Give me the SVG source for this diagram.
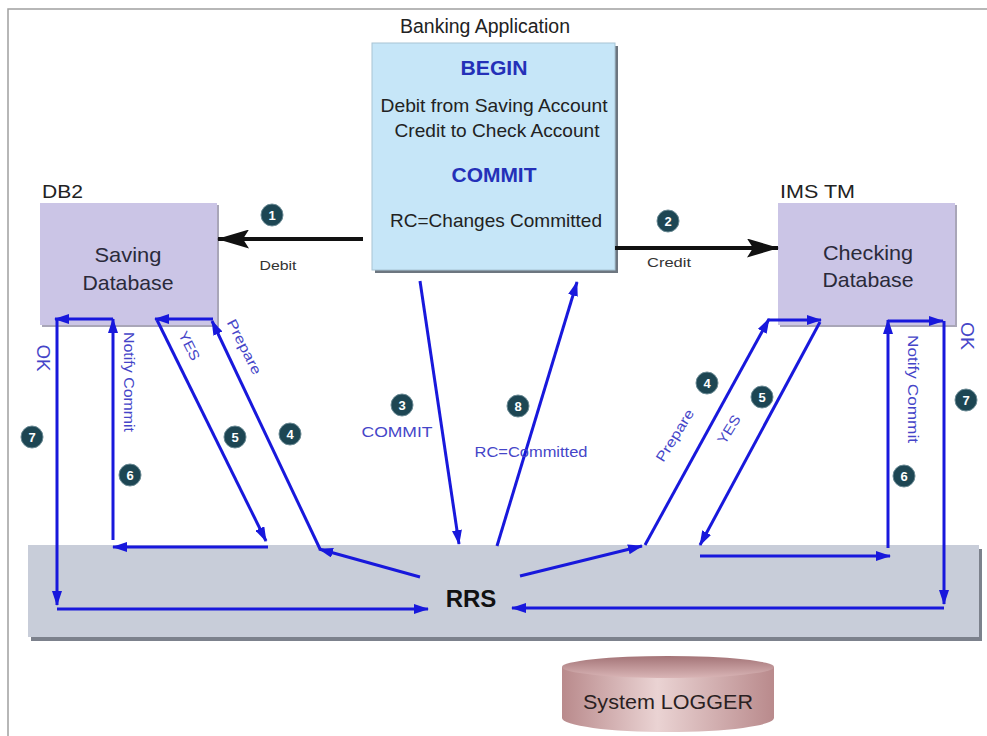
<svg xmlns="http://www.w3.org/2000/svg" width="987" height="736" viewBox="0 0 987 736">
<style>
  text { font-family: "Liberation Sans", Arial, sans-serif; fill: #222; }
  .t19 { font-size: 19px; }
  .node { font-size: 21px; fill: #2a2a3a; }
  .kw { font-size: 21px; font-weight: bold; fill: #2430b8; }
  .small { font-size: 13px; fill: #333; }
  .blab { font-size: 14px; fill: #4545c8; }
  .num { font-size: 13px; font-weight: bold; fill: #fff; }
  .bl { stroke: #1818dc; stroke-width: 3; fill: none; }
  .bk { stroke: #111; stroke-width: 4; fill: none; }
  .circ { fill: #1d4653; stroke: #6a8a94; stroke-width: 1; }
</style>
<defs>
  <marker id="ab" markerWidth="15" markerHeight="10" refX="14" refY="5" orient="auto" markerUnits="userSpaceOnUse">
    <path d="M0,0 L15,5 L0,10 Z" fill="#1818dc"/>
  </marker>
  <marker id="ak" markerWidth="32" markerHeight="19" refX="31" refY="9.5" orient="auto" markerUnits="userSpaceOnUse">
    <path d="M0,0 L32,9.5 L0,19 L6,9.5 Z" fill="#111"/>
  </marker>
  <linearGradient id="cyl" x1="0" y1="0" x2="1" y2="0">
    <stop offset="0" stop-color="#b98a8c"/>
    <stop offset="0.45" stop-color="#ead3d3"/>
    <stop offset="1" stop-color="#b98a8c"/>
  </linearGradient>
  <linearGradient id="cyltop" x1="0" y1="0" x2="0" y2="1">
    <stop offset="0" stop-color="#a47477"/>
    <stop offset="1" stop-color="#d9b5b6"/>
  </linearGradient>
</defs>

<rect x="8" y="9" width="990" height="740" fill="#fff" stroke="#a0a0a0" stroke-width="1.5"/>

<g id="rrs">
  <rect x="31" y="549" width="951" height="92" fill="#7c818c"/>
  <rect x="28" y="545" width="951" height="92" fill="#c8cdd9"/>
  <text x="471" y="607" text-anchor="middle" style="font-size:24px;font-weight:bold;fill:#111">RRS</text>
</g>

<g id="banking-app">
  <text x="485" y="33" text-anchor="middle" style="font-size:20px" textLength="170" lengthAdjust="spacingAndGlyphs">Banking Application</text>
  <rect x="375" y="46" width="243" height="227" fill="#6d7680"/>
  <rect x="372" y="43" width="243" height="227" fill="#c6e6f8" stroke="#a8c4d4" stroke-width="1"/>
  <text x="494" y="75" text-anchor="middle" class="kw" textLength="67" lengthAdjust="spacingAndGlyphs">BEGIN</text>
  <text x="494" y="112" text-anchor="middle" class="t19" textLength="227" lengthAdjust="spacingAndGlyphs">Debit from Saving Account</text>
  <text x="497" y="137" text-anchor="middle" class="t19" textLength="205" lengthAdjust="spacingAndGlyphs">Credit to Check Account</text>
  <text x="494" y="182" text-anchor="middle" class="kw" textLength="85" lengthAdjust="spacingAndGlyphs">COMMIT</text>
  <text x="496" y="227" text-anchor="middle" class="t19" textLength="212" lengthAdjust="spacingAndGlyphs">RC=Changes Committed</text>
</g>

<g id="saving-db">
  <text x="42" y="198" style="font-size:19px" textLength="41" lengthAdjust="spacingAndGlyphs">DB2</text>
  <rect x="42" y="205" width="177" height="122" fill="#a9a6b8"/>
  <rect x="40" y="203" width="177" height="122" fill="#cbc5e6"/>
  <text x="128" y="262" text-anchor="middle" class="node" textLength="67" lengthAdjust="spacingAndGlyphs">Saving</text>
  <text x="128" y="290" text-anchor="middle" class="node" textLength="91" lengthAdjust="spacingAndGlyphs">Database</text>
</g>

<g id="checking-db">
  <text x="780" y="198" style="font-size:19px" textLength="75" lengthAdjust="spacingAndGlyphs">IMS TM</text>
  <rect x="780" y="205" width="177" height="122" fill="#a9a6b8"/>
  <rect x="778" y="203" width="177" height="122" fill="#cbc5e6"/>
  <text x="868" y="260" text-anchor="middle" class="node" textLength="90" lengthAdjust="spacingAndGlyphs">Checking</text>
  <text x="868" y="287" text-anchor="middle" class="node" textLength="91" lengthAdjust="spacingAndGlyphs">Database</text>
</g>

<g id="system-logger">
  <path d="M562,667 L562,718 A106,14 0 0 0 774,718 L774,667 Z" fill="url(#cyl)"/>
  <ellipse cx="668" cy="667" rx="106" ry="11" fill="url(#cyltop)"/>
  <text x="668" y="709" text-anchor="middle" style="font-size:20px;fill:#2a1f22" textLength="170" lengthAdjust="spacingAndGlyphs">System LOGGER</text>
</g>

<g id="connectors">
  <path class="bk" d="M363,239 L218,239" marker-end="url(#ak)"/>
  <path class="bk" d="M615,248 L778,248" marker-end="url(#ak)"/>

  <path class="bl" d="M57,320 L57,605" marker-end="url(#ab)"/>
  <path class="bl" d="M57,609 L428,609" marker-end="url(#ab)"/>
  <path class="bl" d="M268,547 L113,547" marker-end="url(#ab)"/>
  <path class="bl" d="M113,540 L113,319" marker-end="url(#ab)"/>
  <path class="bl" d="M113,319 L55,319" marker-end="url(#ab)"/>
  <path class="bl" d="M157,320 L266,541" marker-end="url(#ab)"/>
  <path class="bl" d="M420,577 L319,549" marker-end="url(#ab)"/>
  <path class="bl" d="M320,549 L212,321" marker-end="url(#ab)"/>
  <path class="bl" d="M213,319 L155,319" marker-end="url(#ab)"/>

  <path class="bl" d="M420,281 L459,544" marker-end="url(#ab)"/>
  <path class="bl" d="M497,546 L577,282" marker-end="url(#ab)"/>

  <path class="bl" d="M520,576 L642,546" marker-end="url(#ab)"/>
  <path class="bl" d="M645,545 L769,319" marker-end="url(#ab)"/>
  <path class="bl" d="M768,320 L821,320" marker-end="url(#ab)"/>
  <path class="bl" d="M820,322 L700,545" marker-end="url(#ab)"/>
  <path class="bl" d="M700,556 L890,556" marker-end="url(#ab)"/>
  <path class="bl" d="M888,548 L888,320" marker-end="url(#ab)"/>
  <path class="bl" d="M888,321 L943,321" marker-end="url(#ab)"/>
  <path class="bl" d="M944,321 L944,604" marker-end="url(#ab)"/>
  <path class="bl" d="M944,608 L512,608" marker-end="url(#ab)"/>
</g>

<g id="labels">
  <text x="278" y="270" text-anchor="middle" class="small" textLength="37" lengthAdjust="spacingAndGlyphs">Debit</text>
  <text x="669" y="267" text-anchor="middle" class="small" textLength="44" lengthAdjust="spacingAndGlyphs">Credit</text>
  <text x="397" y="437" text-anchor="middle" class="blab" textLength="71" lengthAdjust="spacingAndGlyphs">COMMIT</text>
  <text x="531" y="457" text-anchor="middle" class="blab" textLength="113" lengthAdjust="spacingAndGlyphs">RC=Committed</text>
  <text transform="translate(37,358) rotate(90)" class="blab" style="font-size:18px" text-anchor="middle" textLength="27" lengthAdjust="spacingAndGlyphs">OK</text>
  <text transform="translate(124,382) rotate(90)" class="blab" text-anchor="middle" textLength="100" lengthAdjust="spacingAndGlyphs">Notify Commit</text>
  <text transform="translate(185,348) rotate(63)" class="blab" text-anchor="middle" textLength="31" lengthAdjust="spacingAndGlyphs">YES</text>
  <text transform="translate(240,349) rotate(63)" class="blab" text-anchor="middle" textLength="60" lengthAdjust="spacingAndGlyphs">Prepare</text>
  <text transform="translate(679,438) rotate(-58)" class="blab" text-anchor="middle" textLength="59" lengthAdjust="spacingAndGlyphs">Prepare</text>
  <text transform="translate(733,432) rotate(-58)" class="blab" text-anchor="middle" textLength="31" lengthAdjust="spacingAndGlyphs">YES</text>
  <text transform="translate(908,389) rotate(90)" class="blab" text-anchor="middle" textLength="108" lengthAdjust="spacingAndGlyphs">Notify Commit</text>
  <text transform="translate(961,336) rotate(90)" class="blab" style="font-size:18px" text-anchor="middle" textLength="28" lengthAdjust="spacingAndGlyphs">OK</text>
</g>

<g id="steps">
  <circle class="circ" cx="272" cy="215" r="11"/><text class="num" x="272" y="219.5" text-anchor="middle">1</text>
  <circle class="circ" cx="668" cy="221" r="11"/><text class="num" x="668" y="225.5" text-anchor="middle">2</text>
  <circle class="circ" cx="402" cy="405" r="11"/><text class="num" x="402" y="409.5" text-anchor="middle">3</text>
  <circle class="circ" cx="518" cy="406" r="11"/><text class="num" x="518" y="410.5" text-anchor="middle">8</text>
  <circle class="circ" cx="290" cy="434" r="11"/><text class="num" x="290" y="438.5" text-anchor="middle">4</text>
  <circle class="circ" cx="235" cy="437" r="11"/><text class="num" x="235" y="441.5" text-anchor="middle">5</text>
  <circle class="circ" cx="130" cy="475" r="11"/><text class="num" x="130" y="479.5" text-anchor="middle">6</text>
  <circle class="circ" cx="32" cy="437" r="11"/><text class="num" x="32" y="441.5" text-anchor="middle">7</text>
  <circle class="circ" cx="707" cy="383" r="11"/><text class="num" x="707" y="387.5" text-anchor="middle">4</text>
  <circle class="circ" cx="762" cy="397" r="11"/><text class="num" x="762" y="401.5" text-anchor="middle">5</text>
  <circle class="circ" cx="904" cy="476" r="11"/><text class="num" x="904" y="480.5" text-anchor="middle">6</text>
  <circle class="circ" cx="966" cy="400" r="11"/><text class="num" x="966" y="404.5" text-anchor="middle">7</text>
</g>
</svg>
